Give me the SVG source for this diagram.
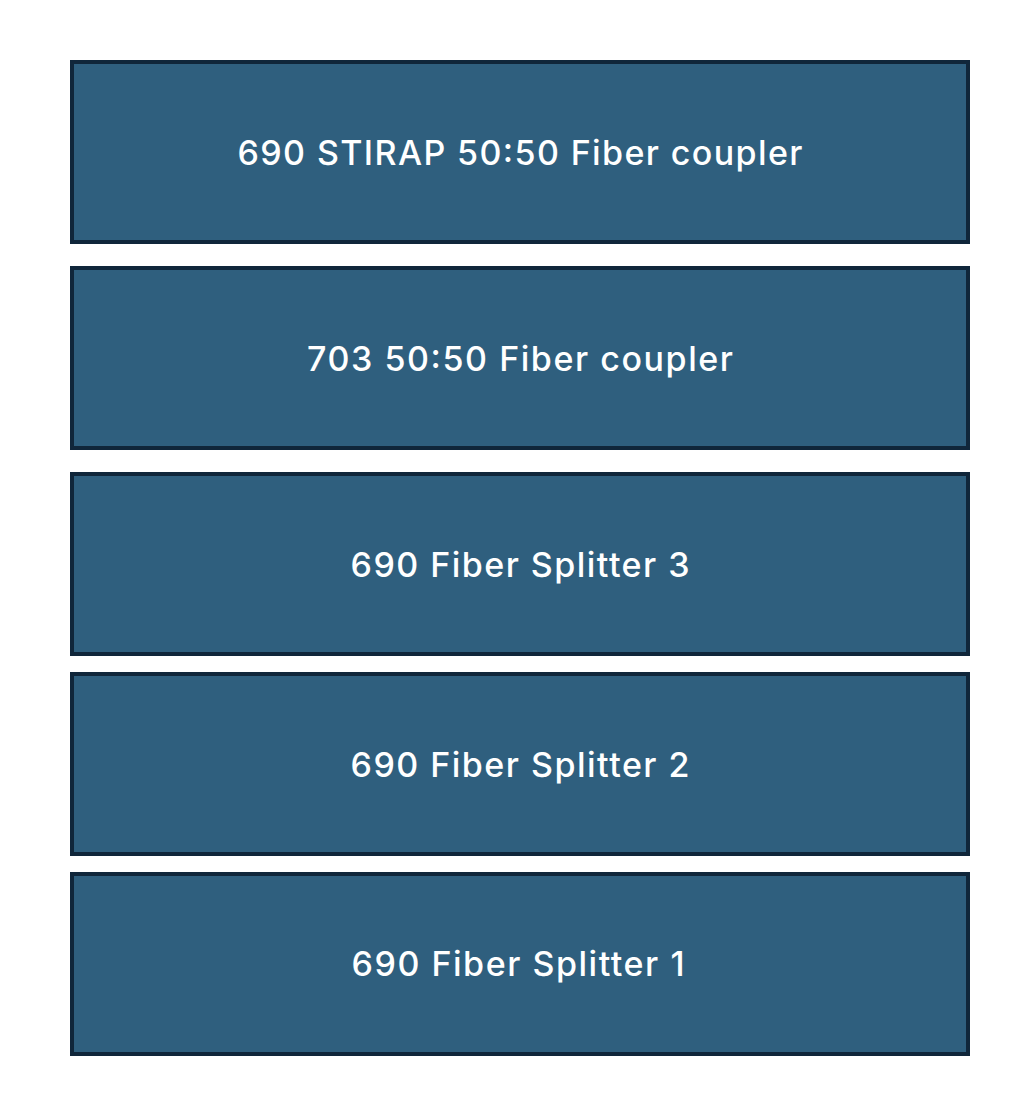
<svg xmlns="http://www.w3.org/2000/svg" width="1012" height="1102" viewBox="0 0 1012 1102">
<style>
.box{fill:#2f5f7e;stroke:#10263a;stroke-width:4}
.lbl{fill:#ffffff;font-family:Inter,"Liberation Sans",Arial,sans-serif;font-size:34px;font-weight:500;text-anchor:middle}
</style>
<rect width="1012" height="1102" fill="#ffffff"/>
<g id="node1"><rect class="box" x="72" y="62" width="896" height="180"/><text class="lbl" x="520" y="165" textLength="565" lengthAdjust="spacing">690 STIRAP 50:50 Fiber coupler</text></g>
<g id="node2"><rect class="box" x="72" y="268" width="896" height="180"/><text class="lbl" x="520" y="371" textLength="426" lengthAdjust="spacing">703 50:50 Fiber coupler</text></g>
<g id="node3"><rect class="box" x="72" y="474" width="896" height="180"/><text class="lbl" x="520" y="577" textLength="339" lengthAdjust="spacing">690 Fiber Splitter 3</text></g>
<g id="node4"><rect class="box" x="72" y="674" width="896" height="180"/><text class="lbl" x="520" y="777" textLength="339" lengthAdjust="spacing">690 Fiber Splitter 2</text></g>
<g id="node5"><rect class="box" x="72" y="874" width="896" height="180"/><text class="lbl" x="518" y="976" textLength="333" lengthAdjust="spacing">690 Fiber Splitter 1</text></g>
<g id="connectors"></g>
</svg>
